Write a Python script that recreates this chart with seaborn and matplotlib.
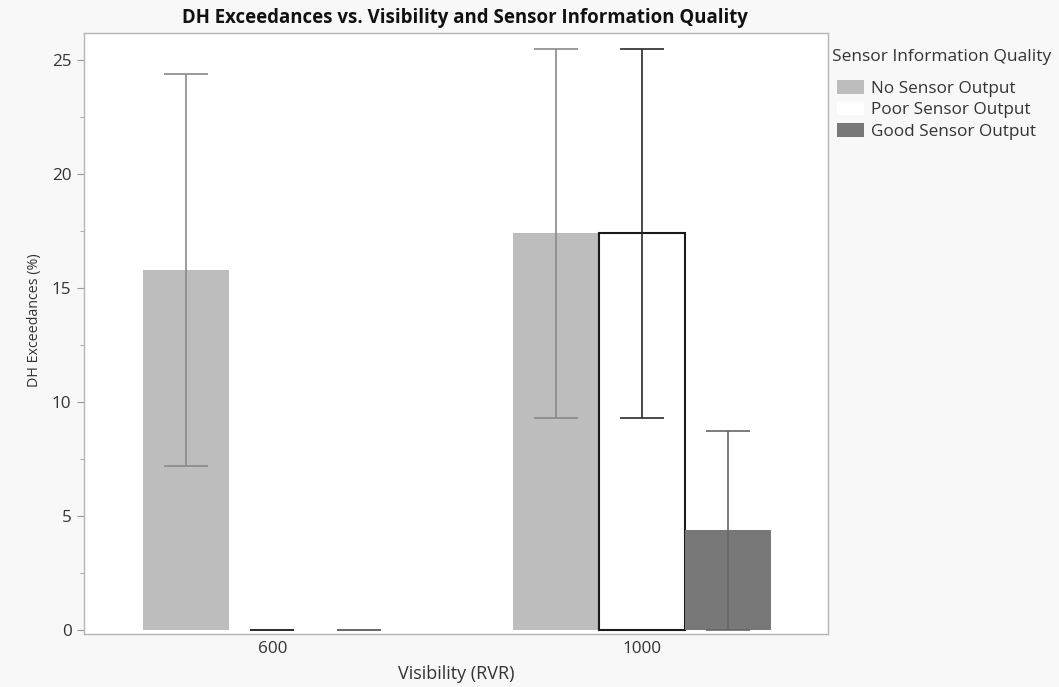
import matplotlib
matplotlib.use("Agg")
import matplotlib.pyplot as plt
from matplotlib.patches import Patch
from matplotlib.ticker import MultipleLocator
import seaborn as sns
import pandas as pd

# ---- data ----
visibility = ["600", "1000"]
quality = ["No Sensor Output", "Poor Sensor Output", "Good Sensor Output"]
mean_600 = [15.8, 0.0, 0.0]
mean_1000 = [17.4, 17.4, 4.35]
lower_600 = [7.2, 0.0, 0.0]
upper_600 = [24.4, 0.0, 0.0]
lower_1000 = [9.3, 9.3, 0.0]
upper_1000 = [25.5, 25.5, 8.7]

fill_colors = ["#bdbdbd", "#ffffff", "#787878"]
err_colors = ["#8a8a8a", "#2a2a2a", "#666666"]

rows = []
for v, means, lows, ups in [("600", mean_600, lower_600, upper_600),
                            ("1000", mean_1000, lower_1000, upper_1000)]:
    for q, m, lo, up in zip(quality, means, lows, ups):
        rows.append({"Visibility": v, "Quality": q, "Mean": m, "Lower": lo, "Upper": up})
df = pd.DataFrame(rows)

sns.set_theme(style="white")
plt.rcParams['font.family'] = ['Open Sans', 'DejaVu Sans']

fig = plt.figure(figsize=(10.59, 6.87), dpi=100, facecolor="#f8f8f8")
ax = fig.add_axes([0.0793, 0.077, 0.703, 0.875])
ax.set_facecolor("white")

sns.barplot(data=df, x="Visibility", y="Mean", hue="Quality", order=visibility,
            hue_order=quality, palette=fill_colors, errorbar=None, width=0.7,
            edgecolor="none", linewidth=0, saturation=1, ax=ax, legend=False)

bar_containers = list(ax.containers)
for i, cont in enumerate(bar_containers):
    q = quality[i]
    for j, bar in enumerate(cont):
        sub = df[(df.Quality == q) & (df.Visibility == visibility[j])].iloc[0]
        cx = bar.get_x() + bar.get_width() / 2
        if q == "Poor Sensor Output" and bar.get_height() > 0:
            bar.set_edgecolor("#1a1a1a")
            bar.set_linewidth(1.5)
        ax.errorbar([cx], [sub.Mean],
                    yerr=[[sub.Mean - sub.Lower], [sub.Upper - sub.Mean]],
                    fmt="none", ecolor=err_colors[i], elinewidth=1.2,
                    capsize=16, capthick=1.2, zorder=3)

ax.set_xlim(-0.51, 1.505)
ax.set_ylim(-0.2, 26.2)
ax.yaxis.set_major_locator(MultipleLocator(5))
ax.yaxis.set_minor_locator(MultipleLocator(2.5))
ax.tick_params(axis="y", which="major", direction="out", length=5, width=0.8,
               color="#9a9a9a", labelsize=12.3, labelcolor="#333333", left=True,
               pad=4)
ax.tick_params(axis="y", which="minor", direction="out", length=3, width=0.8,
               color="#b0b0b0", left=True)
ax.tick_params(axis="x", length=0, labelsize=12.3, labelcolor="#333333", pad=5)
for s in ax.spines.values():
    s.set_color("#b5b5b5")
    s.set_linewidth(1.0)

ax.set_xlabel("Visibility (RVR)", fontsize=13, color="#333333", labelpad=6)
ax.set_ylabel("DH Exceedances (%)", fontsize=10.3, color="#333333")
ax.yaxis.set_label_coords(-0.056, 0.522)
ax.set_title("DH Exceedances vs. Visibility and Sensor Information Quality",
             fontsize=13.4, fontweight="bold", color="#111111", pad=7, x=0.512)

fig.text(832 / 1059, 1 - 57 / 687, "Sensor Information Quality", fontsize=12.5,
         color="#333333", ha="left", va="center")
handles = [Patch(facecolor=c, edgecolor="none") for c in fill_colors]
leg = fig.legend(handles, quality,
                 loc="upper left", bbox_to_anchor=(837 / 1059, 1 - 80 / 687),
                 frameon=False, fontsize=12.3, handlelength=1.6,
                 handleheight=0.85, handletextpad=0.4, labelspacing=0.28,
                 borderaxespad=0, borderpad=0)
for t in leg.get_texts():
    t.set_color("#333333")

fig.savefig("out.png", dpi=100, facecolor=fig.get_facecolor())
